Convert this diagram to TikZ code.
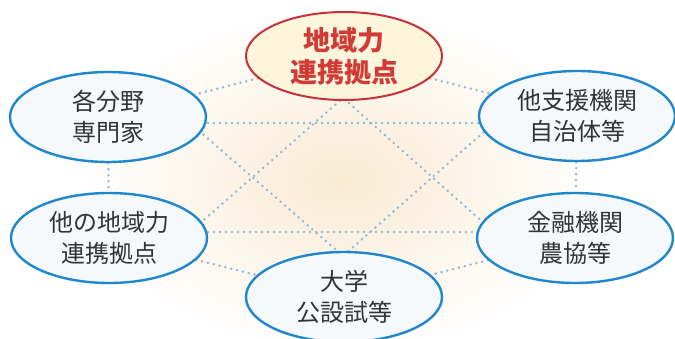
\documentclass[tikz,border=0pt]{standalone}
\usepackage{fontspec}
\newfontfamily\cjk{Noto Sans CJK JP}
\usetikzlibrary{positioning, shapes.geometric, backgrounds}

\definecolor{ringblue}{HTML}{1F87CB}
\definecolor{ringred}{HTML}{C4323A}
\definecolor{hubtext}{HTML}{D23A36}
\definecolor{hubfill}{HTML}{FDF5DC}
\definecolor{partnerfill}{HTML}{F5F9FC}
\definecolor{inkgray}{HTML}{333333}
\definecolor{dotblue}{HTML}{92B9D6}
\definecolor{glow}{HTML}{F9EAD2}

\begin{document}
\begin{tikzpicture}
            [x=1pt, y=-1pt,
            hub/.style={
                ellipse,
                draw=ringred,
                line width=2pt,
                fill=hubfill,
                text=hubtext,
                align=center,
                inner sep=0pt,
                minimum width=196pt,
                minimum height=88pt,
                font=\cjk\bfseries\fontsize{27}{32}\selectfont
            },
            partner/.style={
                ellipse,
                draw=ringblue,
                line width=2.4pt,
                fill=partnerfill,
                text=inkgray,
                align=center,
                inner sep=0pt,
                minimum width=196pt,
                minimum height=90pt,
                font=\cjk\fontsize{24}{31}\selectfont
            },
            link/.style={
                draw=dotblue, line width=2.8pt, line cap=round, dash pattern=on 0pt off 6pt
            }
            ]
            \useasboundingbox (0,0) rectangle (675,339);

            % Centre node and the partners round it
            \node[hub] (hub) at (344,56) {地域力\\連携拠点};
            \node[partner] (expert) at (108,117) {各分野\\専門家};
            \node[partner] (support) at (577,116) {他支援機関\\自治体等};
            \node[partner] (other) at (109,238) {他の地域力\\連携拠点};
            \node[partner] (finance) at (575,238) {金融機関\\農協等};
            \node[partner] (univ) at (344,297) {大学\\公設試等};

            % Corners of the star, hidden under the ellipses
            \coordinate (starNW) at (190,123);
            \coordinate (starNE) at (494,123);
            \coordinate (starS) at (343,256);
            \coordinate (starSW) at (190,232);
            \coordinate (starSE) at (494,232);
            \coordinate (starN) at (343,98);

            \begin{scope}[on background layer]
                \fill[white] (0,0) rectangle (675,339);
                \shade[inner color=glow, outer color=white] (342,180) ellipse [x radius=260, y radius=170];

                \foreach \from/\to in {hub/expert, hub/support, expert/other, support/finance, other/univ, finance/univ}{
                    \path [link] (\from) -- (\to);
                }

                \path [link] (starNW) -- (starNE) -- (starS) -- cycle;
                \path [link] (starSW) -- (starSE) -- (starN) -- cycle;
            \end{scope}
\end{tikzpicture}
\end{document}
